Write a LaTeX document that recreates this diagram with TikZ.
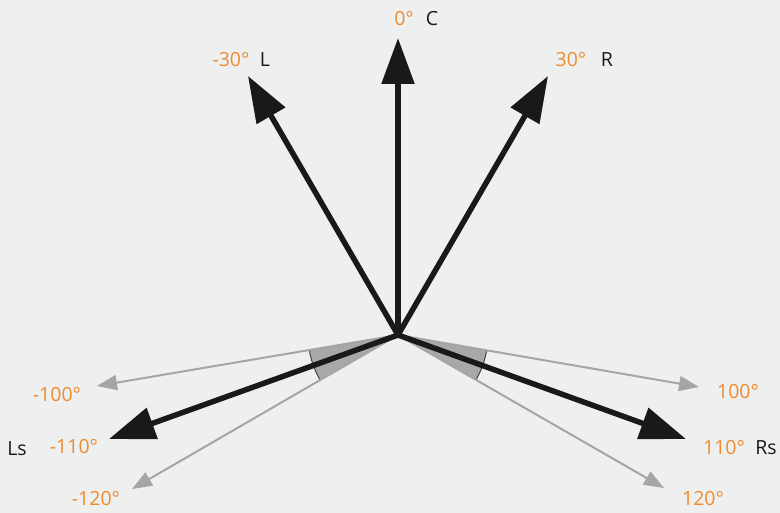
\documentclass[tikz,border=0pt]{standalone}
\usepackage{fontspec}
\setmainfont{Open Sans}
\usetikzlibrary{arrows.meta,calc}
\definecolor{bg}{HTML}{EEF0EF}
\definecolor{org}{HTML}{F08A2C}
\definecolor{blk}{HTML}{1A1918}
\definecolor{gry}{HTML}{A4A5A5}
\definecolor{wedge}{HTML}{A8A8A8}
\tikzset{
  mainarrow/.style={draw=blk, line width=5.5pt, -{Triangle[length=46pt,width=32pt]}},
  sidearrow/.style={draw=gry, line width=2pt, -{Triangle[length=20pt,width=15pt]}},
  deg/.style={text=org, font=\fontsize{19.5}{22}\selectfont, anchor=base, inner sep=0pt},
  chan/.style={text=blk, font=\fontsize{19.5}{22}\selectfont, anchor=base, inner sep=0pt},
  sector/.style={fill=wedge, draw=none},
  sectorarc/.style={draw=blk!85, line width=0.9pt}
}
\begin{document}
\begin{tikzpicture}[x=1pt,y=1pt]
\fill[bg] (0,0) rectangle (780,-513);
\useasboundingbox (0,0) rectangle (780,-513);
\coordinate (O) at (398,-335);
% tips
\coordinate (tC) at (398,-38);
\coordinate (tL) at (248,-76);
\coordinate (tR) at (548,-76);
\coordinate (tLs) at (109,-439);
\coordinate (tRs) at (686,-439);
\coordinate (tm100) at (97,-386);
\coordinate (tm120) at (132,-489);
\coordinate (tp100) at (699,-387);
\coordinate (tp120) at (664,-488);
% wedges
\fill[sector] (O) -- ++(190:90) arc (190:210:90) -- cycle;
\draw[sectorarc] ($(O)+(190:90)$) arc (190:210:90);
\fill[sector] (O) -- ++(-10:90) arc (-10:-30:90) -- cycle;
\draw[sectorarc] ($(O)+(-10:90)$) arc (-10:-30:90);
% side arrows
\draw[sidearrow] (O) -- (tm100);
\draw[sidearrow] (O) -- (tm120);
\draw[sidearrow] (O) -- (tp100);
\draw[sidearrow] (O) -- (tp120);
% main arrows
\draw[mainarrow] (O) -- (tC);
\draw[mainarrow] (O) -- (tL);
\draw[mainarrow] (O) -- (tR);
\draw[mainarrow] (O) -- (tLs);
\draw[mainarrow] (O) -- (tRs);
% labels
\node[deg] (d0) at (404,-26) {0°};
\node[chan] (cC) at (432,-26) {C};
\node[deg] (dm30) at (231,-67) {-30°};
\node[chan] (cL) at (265,-67) {L};
\node[deg] (dp30) at (571,-67) {30°};
\node[chan] (cR) at (607,-67) {R};
\node[deg] (dm100) at (57,-402) {-100°};
\node[deg] (dm110) at (74,-453) {-110°};
\node[chan] (cLs) at (17,-455) {Ls};
\node[deg] (dm120) at (96,-505) {-120°};
\node[deg] (dp100) at (738,-399) {100°};
\node[deg] (dp110) at (724,-454) {110°};
\node[chan] (cRs) at (766,-454) {Rs};
\node[deg] (dp120) at (703,-505) {120°};
\end{tikzpicture}
\end{document}
